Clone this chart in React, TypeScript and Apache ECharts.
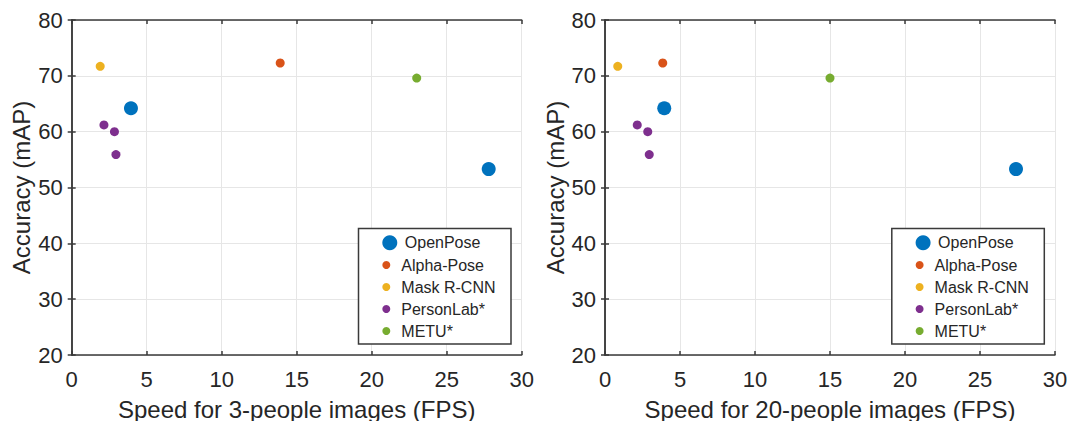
import React, { useEffect, useRef } from "react";
import * as echarts from "echarts";

const seriesNames = ["OpenPose", "Alpha-Pose", "Mask R-CNN", "PersonLab*", "METU*"];
const seriesColors = ["#0072BD", "#D95319", "#EDB120", "#7E2F8E", "#77AC30"];

// Left panel: 3-people images [FPS, mAP]
const openPose3 = [[3.95, 64.2], [27.8, 53.3]];
const alphaPose3 = [[13.9, 72.3]];
const maskRcnn3 = [[1.9, 71.7]];
const personLab3 = [[2.15, 61.2], [2.85, 60.0], [2.95, 55.9]];
const metu3 = [[23.0, 69.6]];

// Right panel: 20-people images [FPS, mAP]
const openPose20 = [[3.95, 64.2], [27.4, 53.3]];
const alphaPose20 = [[3.85, 72.3]];
const maskRcnn20 = [[0.85, 71.7]];
const personLab20 = [[2.15, 61.2], [2.85, 60.0], [2.95, 55.9]];
const metu20 = [[15.0, 69.6]];

const xTitles = ["Speed for 3-people images (FPS)", "Speed for 20-people images (FPS)"];
const yTitle = "Accuracy (mAP)";
const xMin = 0, xMax = 30, xStep = 5;
const yMin = 20, yMax = 80, yStep = 10;

const FONT = "Liberation Sans, Arial, Helvetica, sans-serif";
const INK = "#262626";
const AXIS = "#3a3a3a";

export default function App() {
  const ref = useRef<HTMLDivElement>(null);
  useEffect(() => {
    document.body.style.margin = "0";
    const chart = echarts.init(ref.current!, null, { renderer: "svg" });
    const gridLefts = [71.7, 605];
    const panels = [
      [openPose3, alphaPose3, maskRcnn3, personLab3, metu3],
      [openPose20, alphaPose20, maskRcnn20, personLab20, metu20],
    ];
    const grids = gridLefts.map((l) => ({
      left: l, top: 20, width: 450, height: 335, containLabel: false, outerBoundsMode: "none",
    }));
    const xAxes: any[] = [];
    const yAxes: any[] = [];
    gridLefts.forEach((_, gi) => {
      xAxes.push({
        type: "value", gridIndex: gi, position: "bottom", min: xMin, max: xMax, interval: xStep,
        name: xTitles[gi], nameLocation: "middle", nameGap: 42,
        nameTextStyle: { fontSize: 24, color: INK, fontFamily: FONT },
        axisLine: { show: true, lineStyle: { color: AXIS, width: 1.5 } },
        axisTick: { show: true, inside: true, length: 4, lineStyle: { color: AXIS, width: 1.5 } },
        axisLabel: { fontSize: 22, color: INK, fontFamily: FONT, margin: 13 },
        splitLine: { show: true, lineStyle: { color: "#e6e6e6", width: 1 } },
      });
      xAxes.push({
        type: "value", gridIndex: gi, position: "top", min: xMin, max: xMax, interval: xStep,
        axisLine: { show: true, lineStyle: { color: AXIS, width: 1.5 } },
        axisTick: { show: true, inside: true, length: 4, lineStyle: { color: AXIS, width: 1.5 } },
        axisLabel: { show: false },
        splitLine: { show: false },
      });
      yAxes.push({
        type: "value", gridIndex: gi, position: "left", min: yMin, max: yMax, interval: yStep,
        name: yTitle, nameLocation: "middle", nameGap: 38,
        nameTextStyle: { fontSize: 24, color: INK, fontFamily: FONT },
        axisLine: { show: true, lineStyle: { color: AXIS, width: 1.5 } },
        axisTick: { show: true, inside: true, length: 4, lineStyle: { color: AXIS, width: 1.5 } },
        axisLabel: { fontSize: 22, color: INK, fontFamily: FONT, margin: 9 },
        splitLine: { show: true, lineStyle: { color: "#e6e6e6", width: 1 } },
      });
      yAxes.push({
        type: "value", gridIndex: gi, position: "right", min: yMin, max: yMax, interval: yStep,
        axisLine: { show: true, lineStyle: { color: AXIS, width: 1.5 } },
        axisTick: { show: true, inside: true, length: 4, lineStyle: { color: AXIS, width: 1.5 } },
        axisLabel: { show: false },
        splitLine: { show: false },
      });
    });

    const series: any[] = [];
    panels.forEach((panel, gi) => {
      panel.forEach((data, si) => {
        series.push({
          type: "scatter",
          name: seriesNames[si],
          xAxisIndex: gi * 2,
          yAxisIndex: gi * 2,
          data,
          symbol: "circle",
          symbolSize: si === 0 ? 14 : 9,
          itemStyle: { color: seriesColors[si], opacity: 1 },
          emphasis: { disabled: true },
        });
      });
    });

    const legends: any[] = [];
    const graphics: any[] = [];
    gridLefts.forEach((gl) => {
      const dx = gl - 71.7;
      const textStyle = { fontSize: 16, color: INK, fontFamily: FONT, lineHeight: 22 };
      legends.push({
        orient: "vertical", left: 382.3 + dx, top: 231.7, padding: 0, itemGap: 0,
        itemWidth: 20, itemHeight: 15, icon: "circle", selectedMode: false,
        data: [seriesNames[0]], textStyle,
      });
      legends.push({
        orient: "vertical", left: 382.3 + dx, top: 254, padding: 0, itemGap: 0,
        itemWidth: 20, itemHeight: 8, icon: "circle", selectedMode: false,
        data: seriesNames.slice(1), textStyle,
      });
      graphics.push({
        type: "rect", z: 3, silent: true,
        shape: { x: 358.5 + dx, y: 228.5, width: 152.5, height: 115.5 },
        style: { fill: "#ffffff", stroke: "#3a3a3a", lineWidth: 1.5 },
      });
    });

    chart.setOption({
      animation: false,
      backgroundColor: "#ffffff",
      grid: grids,
      xAxis: xAxes,
      yAxis: yAxes,
      legend: legends,
      graphic: graphics,
      series,
    });
    return () => chart.dispose();
  }, []);
  return <div ref={ref} style={{ width: 1070, height: 421 }} />;
}
